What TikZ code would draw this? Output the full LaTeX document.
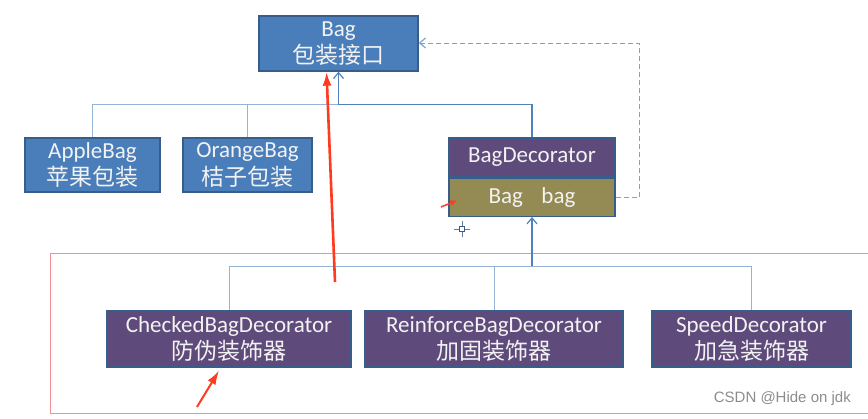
\documentclass[tikz,border=0pt]{standalone}
\usepackage{fontspec}
\setmainfont{Carlito}
\newfontfamily\cjk{Noto Sans CJK SC}
\newfontfamily\wmfont{Liberation Sans}
\usetikzlibrary{arrows.meta,calc}
\definecolor{bluefill}{HTML}{4A7EBB}
\definecolor{blueedge}{HTML}{385D8A}
\definecolor{purplefill}{HTML}{5F4B7B}
\definecolor{olivefill}{HTML}{948A54}
\definecolor{linedark}{HTML}{4F81BD}
\definecolor{linelight}{HTML}{95B3D7}
\definecolor{dashcol}{HTML}{7FA3D0}
\definecolor{txt}{HTML}{F2F2F2}
\definecolor{annot}{HTML}{FF3B1F}
\definecolor{frame}{HTML}{F09090}
\tikzset{
  box/.style={draw=blueedge, line width=1.3pt, text=txt, inner sep=0pt, align=center,
    font=\fontsize{23}{27.5}\selectfont},
  bluebox/.style={box, fill=bluefill},
  purplebox/.style={box, fill=purplefill},
  olivebox/.style={box, fill=olivefill},
  thin link/.style={draw=linelight, line width=0.9pt},
  main link/.style={draw=linedark, line width=1.4pt},
  open tip/.style={-{Straight Barb[length=6pt,width=10pt,line width=1.2pt]}},
  annot arrow/.style={draw=annot, -{Latex[length=14pt,width=9pt]}},
}
\begin{document}
\begin{tikzpicture}[x=1pt,y=-1pt]
\useasboundingbox (0,0) rectangle (868,418);
% red frame
\draw[frame, line width=1pt] (50,253) -- (870,253);
\draw[frame, line width=1pt] (870,413) -- (50,413) -- (50,253);
% nodes
\node[bluebox, minimum width=159pt, minimum height=55pt] (bag) at (338.5,43.5) {Bag\\{\cjk 包装接口}};
\node[bluebox, minimum width=135pt, minimum height=54pt] (apple) at (92.5,165) {AppleBag\\{\cjk 苹果包装}};
\node[bluebox, minimum width=129pt, minimum height=54pt] (orange) at (247.5,165) {OrangeBag\\{\cjk 桔子包装}};
\node[purplebox, minimum width=166pt, minimum height=39pt] (dec) at (532,157.5) {BagDecorator};
\node[olivebox, minimum width=166pt, minimum height=38pt, anchor=north] (decf) at (dec.south) {Bag\hspace{0.8em}bag};
\node[purplebox, minimum width=244pt, minimum height=56pt] (checked) at (229,339) {CheckedBagDecorator\\{\cjk 防伪装饰器}};
\node[purplebox, minimum width=258pt, minimum height=56pt] (reinf) at (494,339) {ReinforceBagDecorator\\{\cjk 加固装饰器}};
\node[purplebox, minimum width=199pt, minimum height=56pt] (speed) at (751.5,339) {SpeedDecorator\\{\cjk 加急装饰器}};
% junctions
\coordinate (j1) at ($(bag.south)+(0,33)$);
\coordinate (j2) at ($(decf.south)+(0,49)$);
\coordinate (dashcorner) at (639,43);
% upper inheritance
\draw[thin link] (apple.north) |- (j1);
\draw[thin link] (orange.north) |- (j1);
\draw[main link] (dec.north) |- (j1);
\draw[main link, open tip] (j1) -- (bag.south);
% dashed aggregation
\draw[dashcol, line width=1pt, dash pattern=on 5pt off 3pt, open tip]
  (decf.east) -| (dashcorner) -- (bag.east |- dashcorner);
% lower inheritance
\draw[thin link] (checked.north) |- (j2);
\draw[thin link] (reinf.north) |- (j2);
\draw[thin link] (speed.north) |- (j2);
\draw[main link, open tip] (j2) -- (decf.south);
% annotation arrows
\coordinate (ra1) at (335,282);
\draw[annot arrow, line width=2.6pt] (ra1) -- ($(bag.south)+(-12,0)$);
\coordinate (ra2) at (441,207);
\draw[draw=annot, line width=1.5pt, -{Latex[length=7pt,width=6pt]}] (ra2) -- ($(decf.west)+(9,3)$);
\coordinate (ra3) at (197,407);
\draw[draw=annot, line width=2pt, -{Latex[length=14pt,width=9pt]}] (ra3) -- ($(checked.south)+(-10,3)$);
% cursor mark
\coordinate (cur) at (462,229);
\draw[blueedge!80, line width=1pt] ($(cur)+(-8,0)$) -- ($(cur)+(8,0)$);
\draw[blueedge!80, line width=1pt] ($(cur)+(0,-8)$) -- ($(cur)+(0,8)$);
\draw[blueedge, fill=white, line width=0.8pt] ($(cur)+(-2.5,-2.5)$) rectangle ($(cur)+(2.5,2.5)$);
% watermark
\node[anchor=east, text=black!45, font=\wmfont\fontsize{15}{17}\selectfont, inner sep=0pt] (wm) at (851,399) {CSDN @Hide on jdk};
\end{tikzpicture}
\end{document}
